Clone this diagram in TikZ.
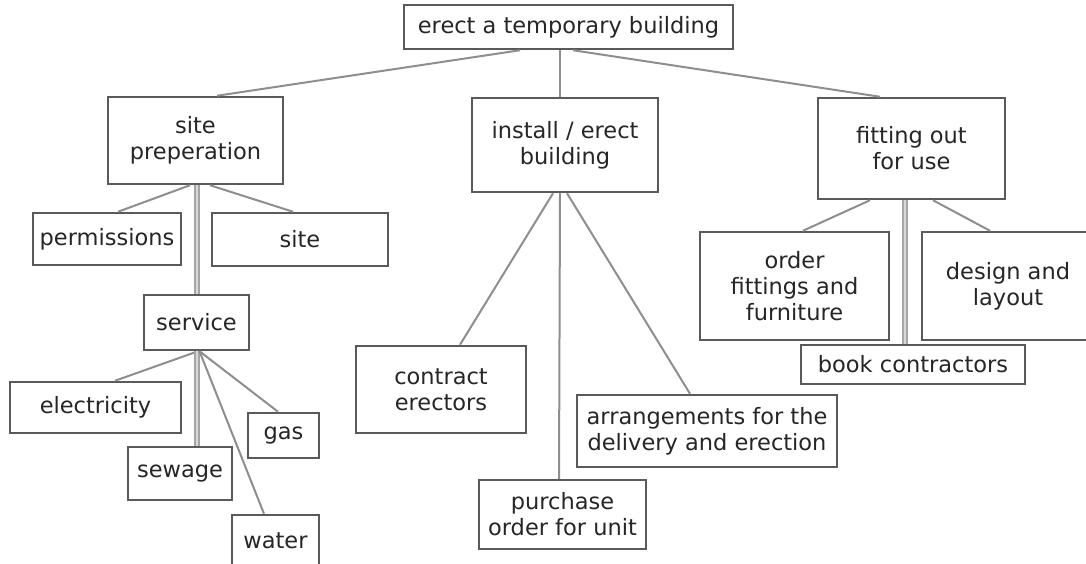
\documentclass[tikz,border=0pt]{standalone}
\usepackage{fontspec}
\setmainfont{DejaVu Sans}
\definecolor{boxline}{HTML}{5A5A5A}
\definecolor{linkline}{HTML}{8E8E8E}
\definecolor{inktext}{HTML}{262626}
\begin{document}
\begin{tikzpicture}[x=1pt,y=-1pt,
  box/.style={draw=boxline, line width=2.5pt, fill=white, align=center,
    inner sep=0pt, text=inktext, font=\fontsize{22.5}{26}\selectfont},
  link/.style={draw=linkline, line width=2pt},
  trunk/.style={draw=linkline!80, double=linkline!35, line width=1.6pt, double distance=2.4pt}]
\clip (0,0) rectangle (1086,564);
\fill[white] (0,0) rectangle (1086,564);

% top level
\node[box, minimum width=329pt, minimum height=44pt] (top) at (568.5,27) {erect a temporary building};

% main branches
\node[box, minimum width=175pt, minimum height=87pt]  (sp)   at (195.5,140.5) {site\\preperation};
\node[box, minimum width=186pt, minimum height=94pt]  (inst) at (565,145) {install / erect\\building};
\node[box, minimum width=187pt, minimum height=101pt] (fit)  at (911.5,148.5) {fitting out\\for use};

% site preparation
\node[box, minimum width=148pt, minimum height=52pt] (perm) at (107,239) {permissions};
\node[box, minimum width=176pt, minimum height=53pt] (site) at (300,239.5) {site};
\node[box, minimum width=105pt, minimum height=55pt] (serv) at (196.5,322.5) {service};
\node[box, minimum width=171pt, minimum height=51pt] (elec) at (95.5,407.5) {electricity};
\node[box, minimum width=104pt, minimum height=53pt] (sew)  at (180,473.5) {sewage};
\node[box, minimum width=71pt,  minimum height=45pt] (gas)  at (283.5,435.5) {gas};
\node[box, minimum width=87pt,  minimum height=52pt] (wat)  at (275.5,541) {water};

% installation
\node[box, minimum width=170pt, minimum height=87pt] (con)  at (441,389.5) {contract\\erectors};
\node[box, minimum width=167pt, minimum height=69pt] (pur)  at (562.5,514.5) {purchase\\order for unit};
\node[box, minimum width=260pt, minimum height=72pt] (arr)  at (707,431) {arrangements for the\\delivery and erection};

% fitting out
\node[box, minimum width=189pt, minimum height=108pt] (ord) at (794.5,286) {order\\fittings and\\furniture};
\node[box, minimum width=172pt, minimum height=108pt] (des) at (1008,286) {design and\\layout};
\node[box, minimum width=224pt, minimum height=39pt]  (book) at (913,364.5) {book contractors};

% connectors
\draw[link] ([xshift=-48.5pt]top.south) -- ([xshift=21.5pt]sp.north);
\draw[link] ([xshift=-8.5pt]top.south) -- ([xshift=-5pt]inst.north);
\draw[link] ([xshift=4.5pt]top.south) -- ([xshift=-31.5pt]fit.north);

\draw[link] ([xshift=-5.5pt]sp.south) -- ([xshift=11pt]perm.north);
\draw[link] ([xshift=14.5pt]sp.south) -- ([xshift=-7pt]site.north);
\draw[trunk] ([xshift=1.5pt]sp.south) -- ([xshift=0.5pt]serv.north);

\draw[link] ([xshift=1.5pt]serv.south) -- ([xshift=19.5pt]elec.north);
\draw[trunk] ([xshift=0.5pt]serv.south) -- ([xshift=17pt]sew.north);
\draw[link] ([xshift=3pt]serv.south) -- ([xshift=-5.5pt]gas.north);
\draw[link] ([xshift=3pt]serv.south) -- ([xshift=-11.5pt]wat.north);

\draw[link] ([xshift=-12pt]inst.south) -- ([xshift=19pt]con.north);
\draw[link] ([xshift=-5pt]inst.south) -- ([xshift=-3.5pt]pur.north);
\draw[link] ([xshift=2pt]inst.south) -- ([xshift=-17pt]arr.north);

\draw[link] ([xshift=-41.5pt]fit.south) -- ([xshift=8.5pt]ord.north);
\draw[trunk] ([xshift=-6.5pt]fit.south) -- ([xshift=-8pt]book.north);
\draw[link] ([xshift=21.5pt]fit.south) -- ([xshift=-18pt]des.north);
\end{tikzpicture}
\end{document}
